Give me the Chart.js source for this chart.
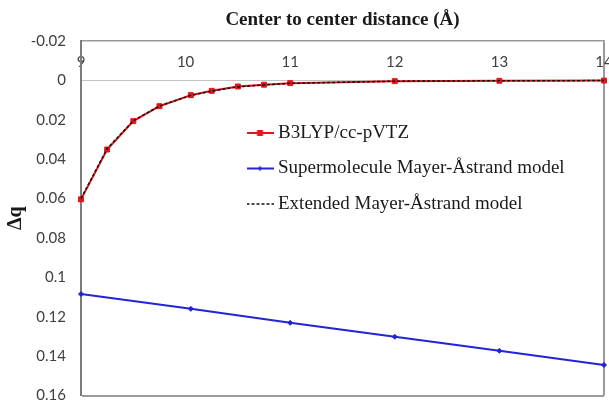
<!DOCTYPE html>
<html>
<head>
<meta charset="utf-8">
<script src="https://cdn.jsdelivr.net/npm/chart.js@4/dist/chart.umd.min.js"></script>
<style>
  html, body { margin: 0; padding: 0; background: #ffffff; }
  #wrap { width: 609px; height: 404px; }
</style>
</head>
<body>
<div id="wrap"><canvas id="chart" width="609" height="404"></canvas></div>
<script>
// Charge transfer Δq versus centre-to-centre distance (Å)
const distances      = [9, 9.25, 9.5, 9.75, 10.05, 10.25, 10.5, 10.75, 11, 12, 13, 14];
const b3lyp          = [0.0604, 0.0351, 0.0207, 0.0131, 0.0075, 0.0053, 0.0031, 0.0022, 0.0014, 0.0004, 0.0002, 0.0001];
const extendedModel  = [0.0600, 0.0346, 0.0205, 0.0130, 0.0076, 0.0054, 0.0033, 0.0023, 0.0015, 0.0004, 0.0002, 0.0001];
const superDistances = [9, 10.05, 11, 12, 13, 14];
const supermolecule  = [0.1085, 0.1160, 0.1231, 0.1302, 0.1373, 0.1445];
const seriesNames    = ['B3LYP/cc-pVTZ', 'Supermolecule Mayer-Åstrand model', 'Extended Mayer-Åstrand model'];
const xTicks         = [9, 10, 11, 12, 13, 14];
const yTicks         = [-0.02, 0, 0.02, 0.04, 0.06, 0.08, 0.1, 0.12, 0.14, 0.16];
const xTitle         = 'Center to center distance (Å)';
const yTitle         = 'Δq';

const RED = '#e3161b';
const BLUE = '#2323d8';
const BLACK = '#111111';
const FRAME = '#9a9a9a';

const points = (xs, ys) => xs.map((x, i) => ({ x: x, y: ys[i] }));

// small line-with-marker swatches for the legend
function legendIcon(color, width, dash, marker) {
  const c = document.createElement('canvas');
  c.width = 27; c.height = 10;
  const g = c.getContext('2d');
  g.strokeStyle = color; g.lineWidth = width; g.setLineDash(dash);
  g.beginPath(); g.moveTo(0, 5); g.lineTo(27, 5); g.stroke();
  g.setLineDash([]);
  g.fillStyle = color;
  if (marker === 'rect') { g.fillRect(10.5, 2, 6, 6); }
  if (marker === 'diamond') {
    g.beginPath(); g.moveTo(13.5, 2.5); g.lineTo(16, 5); g.lineTo(13.5, 7.5); g.lineTo(11, 5); g.closePath(); g.fill();
  }
  return c;
}
const legendIcons = [
  legendIcon(RED, 2, [], 'rect'),
  legendIcon(BLUE, 2, [], 'diamond'),
  legendIcon(BLACK, 1.5, [3, 2], null)
];

// keeps the legend block inside the plot, under the curve
const legendPlacement = {
  id: 'legendPlacement',
  afterLayout(chart) {
    const lg = chart.legend;
    if (!lg) return;
    lg.left = 235;
    lg.top = 107;
    lg.right = lg.left + lg.width;
    lg.bottom = lg.top + 200;
  }
};

const fmt = v => Number(v.toFixed(2)).toString();

new Chart(document.getElementById('chart'), {
  type: 'scatter',
  data: {
    datasets: [
      {
        label: seriesNames[0],
        data: points(distances, b3lyp),
        showLine: true,
        borderColor: RED, backgroundColor: RED,
        borderWidth: 2,
        pointStyle: 'rect', pointRadius: 3.5, pointBorderWidth: 1,
        order: 1, clip: false
      },
      {
        label: seriesNames[1],
        data: points(superDistances, supermolecule),
        showLine: true,
        borderColor: BLUE, backgroundColor: BLUE,
        borderWidth: 2,
        pointStyle: 'rectRot', pointRadius: 2.5, pointBorderWidth: 1,
        order: 2, clip: false
      },
      {
        label: seriesNames[2],
        data: points(distances, extendedModel),
        showLine: true,
        borderColor: BLACK, backgroundColor: BLACK,
        borderWidth: 1.5, borderDash: [3, 2],
        pointRadius: 0,
        order: 0, clip: false
      }
    ]
  },
  options: {
    responsive: false,
    animation: false,
    events: [],
    layout: { padding: { top: 0, left: 0, right: 2, bottom: 8.5 } },
    scales: {
      x: {
        type: 'linear',
        position: 'top',
        min: 9, max: 14,
        afterBuildTicks: s => { s.ticks = xTicks.map(v => ({ value: v })); },
        afterFit: s => { s.height = 41; s.paddingLeft = 0; s.paddingRight = 0; },
        ticks: {
          mirror: true,
          padding: 12,
          color: '#404040',
          font: { family: 'Lato', size: 15 },
          callback: v => String(v)
        },
        grid: {
          drawTicks: false,
          color: c => (c.tick && c.tick.value === 14) ? FRAME : 'rgba(0,0,0,0)',
          lineWidth: 2
        },
        border: { display: true, color: FRAME, width: 1.5 },
        title: {
          display: true,
          text: xTitle,
          color: '#1a1a1a',
          font: { family: 'Liberation Serif', size: 19, weight: 'bold' },
          padding: { top: 8.5, bottom: 0 }
        }
      },
      y: {
        type: 'linear',
        position: 'left',
        reverse: true,
        min: -0.02, max: 0.16,
        afterBuildTicks: s => { s.ticks = yTicks.map(v => ({ value: v })); },
        afterFit: s => { s.width = 81; s.paddingTop = 0; s.paddingBottom = 0; },
        ticks: {
          padding: 15,
          color: '#404040',
          font: { family: 'Lato', size: 15 },
          callback: v => fmt(v)
        },
        grid: {
          drawTicks: false,
          color: c => {
            if (!c.tick) return 'rgba(0,0,0,0)';
            const v = c.tick.value;
            if (Math.abs(v) < 1e-9) return '#c4c4c4';
            if (Math.abs(v - 0.16) < 1e-9) return FRAME;
            return 'rgba(0,0,0,0)';
          },
          lineWidth: c => (c.tick && Math.abs(c.tick.value - 0.16) < 1e-9) ? 2 : 1
        },
        border: { display: true, color: '#7c7c7c', width: 2 },
        title: {
          display: true,
          text: yTitle,
          color: '#1a1a1a',
          font: { family: 'Liberation Serif', size: 20, weight: 'bold' },
          padding: { top: 4, bottom: 0 }
        }
      }
    },
    plugins: {
      tooltip: { enabled: false },
      legend: {
        position: 'chartArea',
        align: 'start',
        labels: {
          usePointStyle: true,
          pointStyleWidth: 17,
          padding: 16.5,
          color: '#1a1a1a',
          font: { family: 'Liberation Serif', size: 19 },
          sort: (a, b) => a.datasetIndex - b.datasetIndex,
          generateLabels: chart => {
            const items = Chart.defaults.plugins.legend.labels.generateLabels(chart);
            items.forEach(it => { it.pointStyle = legendIcons[it.datasetIndex]; });
            return items;
          }
        }
      }
    }
  },
  plugins: [legendPlacement]
});
</script>
</body>
</html>
